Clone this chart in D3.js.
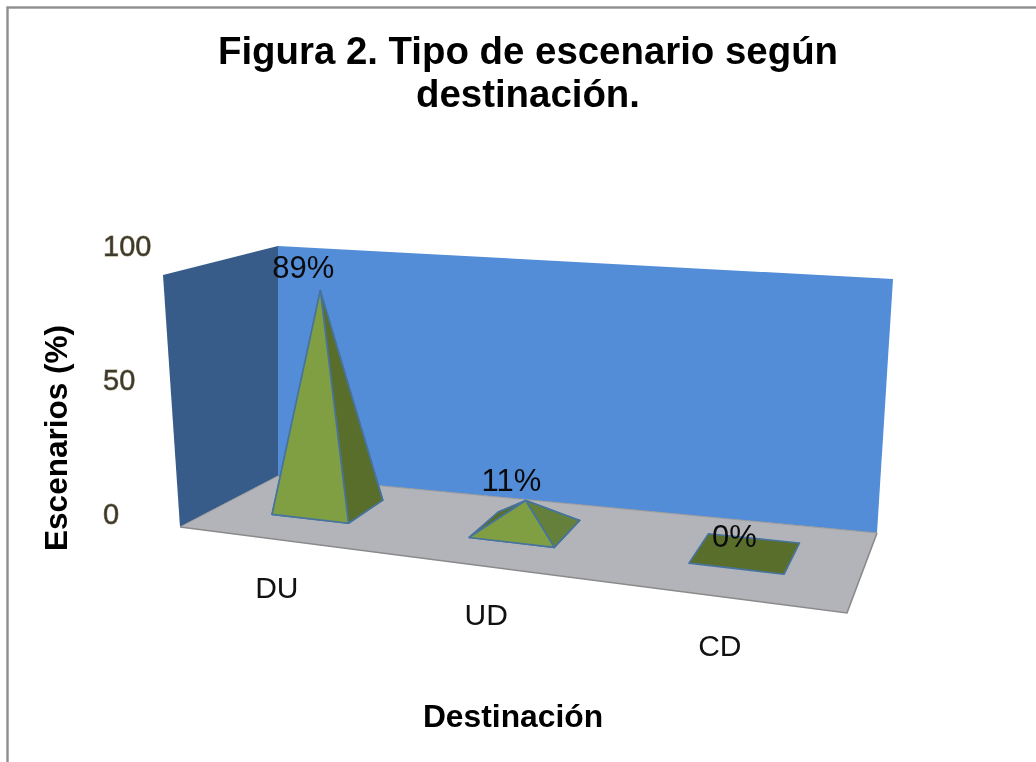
<!DOCTYPE html>
<html><head><meta charset="utf-8">
<script src="https://cdn.jsdelivr.net/npm/d3@7/dist/d3.min.js"></script>
<style>html,body{margin:0;padding:0;background:#fff}svg{display:block;filter:blur(0.4px)}text{font-family:"Liberation Sans",Arial,sans-serif}</style>
</head><body><svg id="c" width="1036" height="762"></svg>
<script>
const categories = ["DU", "UD", "CD"];
const values = [89, 11, 0];
const dataLabels = ["89%", "11%", "0%"];
const yTicks = [0, 50, 100];
const titleLines = ["Figura 2. Tipo de escenario según", "destinación."];
const yTitle = "Escenarios (%)";
const xTitle = "Destinación";

const svg = d3.select("#c");
// Quad corners of the projected box: [front-left, front-right, back-right, back-left]
const floorQuad = [[180,527],[847,613],[877,533],[278,476]];
const topQuad   = [[163,275],[867,331],[893,279],[278,246]];

const warp = k => t => t/(k*(1-t)+t);   // foreshortening along an axis of the box
const warpU = warp(1.178), warpV = warp(0.68);
function bilinear(q,u,v){
  const l=(a,b,t)=>d3.interpolateNumber(a,b)(t);
  const fx=l(q[0][0],q[1][0],u), fy=l(q[0][1],q[1][1],u), bx=l(q[3][0],q[2][0],u), by=l(q[3][1],q[2][1],u);
  return [l(fx,bx,v), l(fy,by,v)];
}
const uScale = d3.scaleBand().domain(categories).range([0,1]).paddingInner(0.6).paddingOuter(0.3);
const vScale = d3.scaleBand().domain(["s"]).range([0,1]).paddingInner(0.58).paddingOuter(0.29);
const hScale = d3.scaleLinear().domain([0,100]).range([0,1]);
function project(u,v,val){
  const uu=warpU(u), vv=warpV(v);
  const a=bilinear(floorQuad,uu,vv), b=bilinear(topQuad,uu,vv), t=hScale(val);
  return [a[0]+(b[0]-a[0])*t, a[1]+(b[1]-a[1])*t];
}
const line = d3.line().curve(d3.curveLinearClosed);
const poly = (pts,fill,stroke,sw)=>svg.append("path").attr("d",line(pts)).attr("fill",fill)
  .attr("stroke",stroke||"none").attr("stroke-width",sw||0).attr("stroke-linejoin","round");

// frame
svg.append("rect").attr("x",7.5).attr("y",7.5).attr("width",1060).attr("height",790)
  .attr("fill","#fff").attr("stroke","#8e8e8e").attr("stroke-width",2.4);

// walls and floor
poly([project(0,1,0),project(1,1,0),project(1,1,100),project(0,1,100)],"#548dd7");
poly([project(0,0,0),project(0,1,0),project(0,1,100),project(0,0,100)],"#375c8a");
poly([project(0,0,0),project(1,0,0),project(1,1,0),project(0,1,0)],"#b2b4b9");
svg.append("path").attr("d",d3.line()([project(0,0,0),project(1,0,0),project(1,1,0)]))
  .attr("fill","none").attr("stroke","#8a8a8a").attr("stroke-width",1.6);
svg.append("path").attr("d",d3.line()([project(0,0,0),project(0,1,0),project(1,1,0)]))
  .attr("fill","none").attr("stroke","#9a9a9a").attr("stroke-width",1);

// pyramids
const edge="#47739f", light="#7f9f42", dark="#5a6e2c", mid="#65803a";
const apexLean = d3.scaleLinear().domain([0,89]).range([0,-6]);
categories.forEach((c,i)=>{
  const u0=uScale(c), u1=u0+uScale.bandwidth(), v0=vScale("s"), v1=v0+vScale.bandwidth();
  const um=(u0+u1)/2, vm=(v0+v1)/2;
  const fl=project(u0,v0,0), fr=project(u1,v0,0), br=project(u1,v1,0), bl=project(u0,v1,0), ap=project(um,vm,values[i]);
  ap[0]+=apexLean(values[i]);
  poly([fl,fr,br,bl],dark,edge,1.6);
  if(values[i]>0){
    poly([bl,br,ap],dark,edge,1.6);
    poly([fl,bl,ap],dark,edge,1.6);
    poly([fr,br,ap],i===0?dark:mid,edge,1.6);
    poly([fl,fr,ap],light,edge,1.6);
  }
});

// value labels
const labelDx = d3.scaleLinear().domain([0,11,89]).range([-11,-15,-23]);
const labelDy = d3.scaleLinear().domain([0,11,89]).range([-5,-10,-13]);
categories.forEach((c,i)=>{
  const p=project(uScale(c)+uScale.bandwidth()/2,vScale("s")+vScale.bandwidth()/2,values[i]);
  svg.append("text").attr("x",p[0]+labelDx(values[i])).attr("y",p[1]+labelDy(values[i])).attr("text-anchor","middle")
    .attr("font-size",31).attr("fill","#0a0a0a").text(dataLabels[i]);
});
// category labels
categories.forEach((c)=>{
  const p=project(uScale(c)+uScale.bandwidth()/2,0,0);
  svg.append("text").attr("x",p[0]).attr("y",p[1]+59).attr("text-anchor","middle")
    .attr("font-size",30).attr("fill","#111").text(c);
});

// value axis
const yAxisScale = d3.scaleLinear().domain([0,100]).range([513,245]);
const gy = svg.append("g").attr("transform","translate(151,0)")
  .call(d3.axisLeft(yAxisScale).tickValues(yTicks).tickSize(0).tickPadding(0));
gy.select(".domain").remove();
gy.selectAll("text").attr("text-anchor","start").attr("x",-48).attr("dy","0.35em")
  .attr("font-size",29).attr("font-family",'"Liberation Sans",Arial,sans-serif')
  .attr("fill","#3b3a30").attr("stroke","#a8946c").attr("stroke-width",0.9).attr("paint-order","stroke");

// titles
svg.selectAll("text.t").data(titleLines).join("text").attr("class","t")
  .attr("x",528).attr("y",(d,i)=>64+i*43).attr("text-anchor","middle")
  .attr("font-size",38.4).attr("font-weight","bold").attr("fill","#000").text(d=>d);
svg.append("text").attr("transform","translate(67,438) rotate(-90)").attr("text-anchor","middle")
  .attr("font-size",31.5).attr("font-weight","bold").attr("fill","#000").text(yTitle);
svg.append("text").attr("x",513).attr("y",727).attr("text-anchor","middle")
  .attr("font-size",31.8).attr("font-weight","bold").attr("fill","#000").text(xTitle);
</script></body></html>
